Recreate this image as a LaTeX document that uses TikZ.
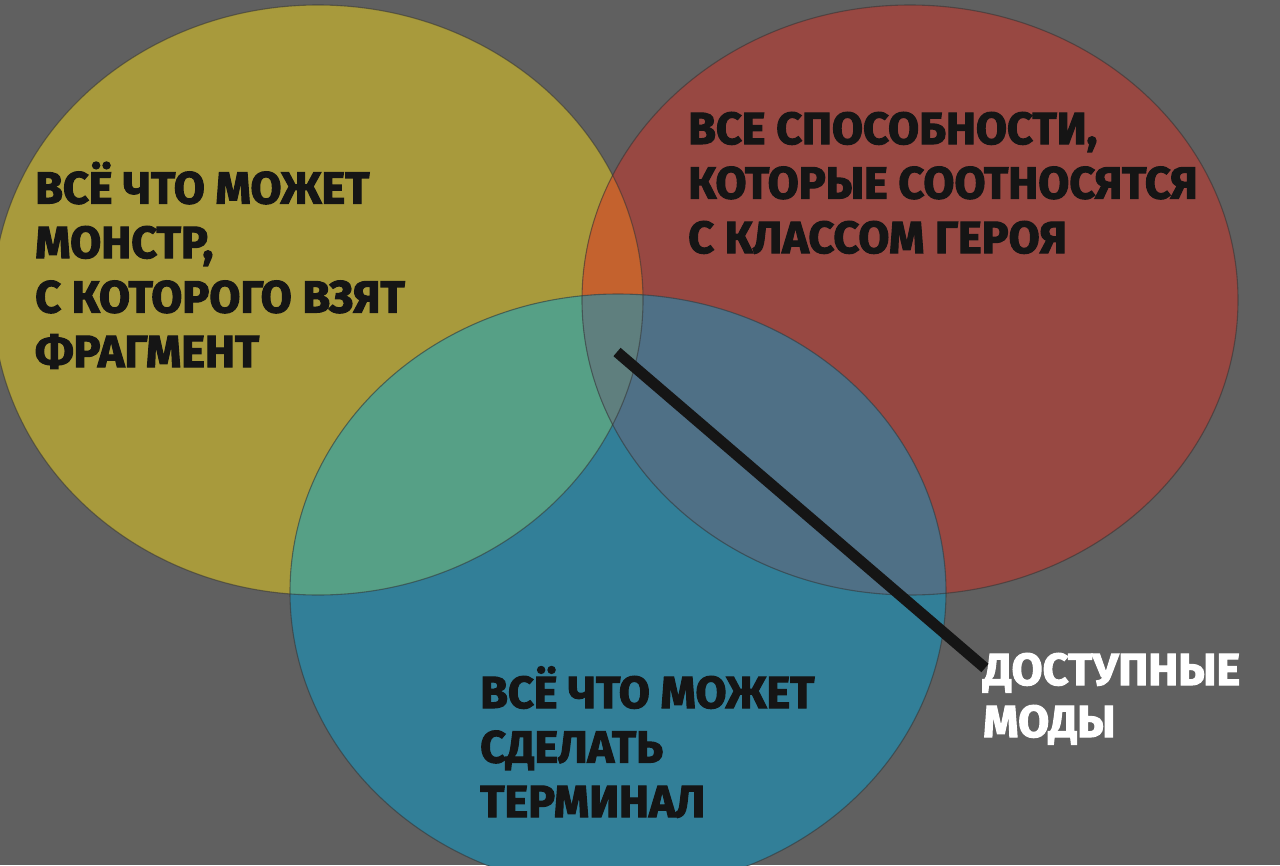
\documentclass[tikz,border=0pt]{standalone}
\usepackage{fontspec}
\setmainfont{Fira Sans}[BoldFeatures={FakeBold=2.5}]
\definecolor{bg}{HTML}{606060}
\definecolor{cyel}{HTML}{A89A3C}
\definecolor{cred}{HTML}{984842}
\definecolor{cblu}{HTML}{327F98}
\definecolor{cyr}{HTML}{C4622E}
\definecolor{cyb}{HTML}{56A086}
\definecolor{crb}{HTML}{4F7086}
\definecolor{cyrb}{HTML}{5F7F7E}
\definecolor{ink}{HTML}{151515}
\begin{document}
\begin{tikzpicture}[x=1pt,y=-1pt,
  rim/.style={draw=black!80,draw opacity=0.55,line width=1.1pt},
  label/.style={font=\fontsize{45}{54.5}\selectfont\bfseries,align=left,anchor=base west,inner sep=0pt,text=ink},
  wlabel/.style={label,font=\fontsize{45}{52}\selectfont\bfseries,text=white},
  pointer/.style={draw=ink,line width=11pt}]
\useasboundingbox (0,0) rectangle (1280,865);
\fill[bg] (0,0) rectangle (1280,865);
\def\yel{(318,300) ellipse [x radius=325,y radius=295]}
\def\red{(910,300) ellipse [x radius=328,y radius=295]}
\def\blu{(618,592) ellipse [x radius=328,y radius=298]}
\fill[cyel] \yel;
\fill[cred] \red;
\fill[cblu] \blu;
\begin{scope}
  \clip \yel;
  \fill[cyr] \red;
  \fill[cyb] \blu;
\end{scope}
\begin{scope}
  \clip \red;
  \fill[crb] \blu;
\end{scope}
\begin{scope}
  \clip \yel;
  \clip \red;
  \fill[cyrb] \blu;
\end{scope}
\path[rim] \yel;
\path[rim] \red;
\path[rim] \blu;
\node[label] (monster) at (35,367) {ВСЁ ЧТО МОЖЕТ\\МОНСТР,\\С КОТОРОГО ВЗЯТ\\ФРАГМЕНТ};
\node[label] (hero) at (688,253) {ВСЕ СПОСОБНОСТИ,\\КОТОРЫЕ СООТНОСЯТСЯ\\С КЛАССОМ ГЕРОЯ};
\node[label] (terminal) at (480,817) {ВСЁ ЧТО МОЖЕТ\\СДЕЛАТЬ\\ТЕРМИНАЛ};
\node[wlabel] (mods) at (983,737) {ДОСТУПНЫЕ\\МОДЫ};
\coordinate (centre) at (617,352);
\coordinate (modsend) at (985,668);
\draw[pointer] (centre) -- (modsend);
\end{tikzpicture}
\end{document}
